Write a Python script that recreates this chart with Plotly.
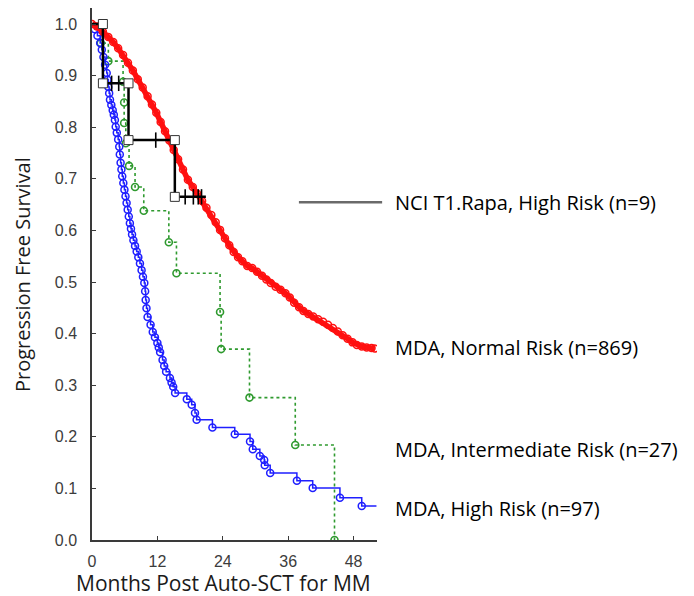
import plotly.graph_objects as go

# ---------------- data ----------------
# MDA, Normal Risk (n=869)  -- dense curve of open circles
normal_months = [0, 0.9, 2.0, 3.0, 3.9, 4.8, 5.7, 6.6, 7.5, 8.4, 9.3, 10.2, 11.0, 11.8,
                 12.6, 13.4, 14.2, 15.0, 15.8, 16.7, 17.6, 18.5, 19.3, 20.2, 21.0, 21.9,
                 22.7, 23.5, 24.4, 25.2, 26.0, 26.8, 27.6, 28.5, 29.4, 30.3, 31.2, 32.0,
                 32.8, 33.7, 34.6, 35.5, 36.3, 37.1, 38.0, 38.8, 39.7, 40.6, 41.5, 42.4,
                 43.3, 44.2, 45.1, 46.0, 46.9, 47.8, 48.6, 49.5, 50.4, 51.3, 51.9]
normal_surv = [1.0, 0.995, 0.985, 0.975, 0.965, 0.953, 0.940, 0.925, 0.910, 0.893, 0.877,
               0.860, 0.844, 0.828, 0.810, 0.792, 0.774, 0.756, 0.738, 0.718, 0.698, 0.684,
               0.671, 0.657, 0.644, 0.630, 0.616, 0.601, 0.585, 0.571, 0.558, 0.548, 0.540,
               0.531, 0.527, 0.520, 0.512, 0.505, 0.498, 0.491, 0.485, 0.478, 0.470, 0.460,
               0.451, 0.444, 0.438, 0.433, 0.428, 0.423, 0.417, 0.411, 0.404, 0.397, 0.390,
               0.383, 0.378, 0.375, 0.373, 0.372, 0.371]

# MDA, High Risk (n=97) -- step curve with circles at events
high_months = [0.5, 1.0, 1.5, 1.8, 2.1, 2.4, 2.7, 2.85, 3.0, 3.15, 3.3, 3.55, 3.8, 4.0, 4.2,
               4.35, 4.55, 4.8, 5.0, 5.1, 5.25, 5.4, 5.55, 5.75, 5.95, 6.15, 6.35, 6.55,
               6.75, 6.95, 7.15, 7.35, 7.6, 7.9, 8.2, 8.5, 8.8, 9.1, 9.35, 9.6, 9.75, 9.85,
               10.0, 10.2, 10.75, 11.15, 11.55, 12.0, 12.25, 12.5, 12.95, 13.25, 13.6, 14.3,
               14.6, 14.9, 15.25, 17.4, 18.3, 18.9, 19.2, 22.1, 26.2, 29.0, 29.5, 30.8, 31.6,
               31.7, 32.7, 37.6, 40.5, 45.5, 49.5]
high_surv = [0.990, 0.977, 0.963, 0.950, 0.936, 0.921, 0.905, 0.892, 0.878, 0.866, 0.853,
             0.843, 0.833, 0.824, 0.814, 0.801, 0.789, 0.776, 0.762, 0.747, 0.731, 0.718,
             0.705, 0.692, 0.679, 0.666, 0.653, 0.640, 0.627, 0.614, 0.603, 0.592, 0.581,
             0.570, 0.559, 0.548, 0.536, 0.523, 0.510, 0.498, 0.482, 0.465, 0.449, 0.432,
             0.417, 0.403, 0.393, 0.382, 0.373, 0.364, 0.349, 0.337, 0.326, 0.314, 0.305,
             0.297, 0.285, 0.273, 0.262, 0.246, 0.233, 0.218, 0.205, 0.191, 0.176, 0.163,
             0.155, 0.145, 0.130, 0.115, 0.101, 0.082, 0.066]
high_last_followup = 52.2

# MDA, Intermediate Risk (n=27)
inter_months = [1.6, 3.0, 5.7, 5.9, 5.9, 6.2, 6.8, 7.9, 9.5, 14.1, 15.5, 23.5, 23.7, 28.9,
                37.3, 44.5]
inter_surv = [0.963, 0.928, 0.888, 0.848, 0.808, 0.769, 0.725, 0.684, 0.638, 0.577, 0.517,
              0.442, 0.370, 0.276, 0.184, 0.0]

# NCI T1.Rapa, High Risk (n=9)
nci_event_months = [2.0, 6.7, 15.2]
nci_surv = [1.0, 0.885, 0.775, 0.665]
nci_censor_months = [3.6, 4.9, 11.7, 17.1, 18.6, 19.5, 20.1]
nci_last_followup = 20.9

x_ticks = [0, 12, 24, 36, 48]
y_ticks = [0.0, 0.1, 0.2, 0.3, 0.4, 0.5, 0.6, 0.7, 0.8, 0.9, 1.0]
y_tick_labels = ["%.1f" % v for v in y_ticks]

label_nci = "NCI T1.Rapa, High Risk (n=9)"
label_normal = "MDA, Normal Risk (n=869)"
label_inter = "MDA, Intermediate Risk (n=27)"
label_high = "MDA, High Risk (n=97)"
x_title = "Months Post Auto-SCT for MM"
y_title = "Progression Free Survival"

# ---------------- figure ----------------
RED = "#ff1010"
BLUE = "#1f1fff"
GREEN = "#2f9a2f"

fig = go.Figure()

# intermediate risk (green dotted step)
fig.add_trace(go.Scatter(
    x=[0] + inter_months, y=[1.0] + inter_surv, mode="lines",
    line=dict(color=GREEN, width=1.6, dash="dot", shape="hv"), hoverinfo="skip"))
fig.add_trace(go.Scatter(
    x=inter_months, y=inter_surv, mode="markers",
    marker=dict(symbol="circle-open", size=7, color=GREEN, line=dict(width=1.6))))

# high risk (blue step)
fig.add_trace(go.Scatter(
    x=[0] + high_months + [high_last_followup], y=[1.0] + high_surv + [high_surv[-1]],
    mode="lines", line=dict(color=BLUE, width=1.5, shape="hv"), hoverinfo="skip"))
fig.add_trace(go.Scatter(
    x=high_months, y=high_surv, mode="markers",
    marker=dict(symbol="circle-open", size=7, color=BLUE, line=dict(width=1.5))))

# normal risk (red dense)
fig.add_trace(go.Scatter(
    x=normal_months, y=normal_surv, mode="lines+markers",
    line=dict(color=RED, width=5.5),
    marker=dict(symbol="circle-open", size=7, color=RED, line=dict(width=1.5))))

# NCI (black step with squares and censor ticks)
nci_x = [0] + nci_event_months + [nci_last_followup]
nci_y = nci_surv + [nci_surv[-1]]
fig.add_trace(go.Scatter(
    x=nci_x, y=nci_y, mode="lines",
    line=dict(color="black", width=2.5, shape="hv"), hoverinfo="skip"))


def surv_at(t):
    s = nci_surv[0]
    for i, et in enumerate(nci_event_months):
        if t >= et:
            s = nci_surv[i + 1]
    return s


fig.add_trace(go.Scatter(
    x=nci_censor_months, y=[surv_at(t) for t in nci_censor_months], mode="markers",
    marker=dict(symbol="line-ns", size=11, color="black", line=dict(width=1.6, color="black"))))
sq_x, sq_y = [], []
for i, et in enumerate(nci_event_months):
    sq_x += [et, et]
    sq_y += [nci_surv[i], nci_surv[i + 1]]
fig.add_trace(go.Scatter(
    x=sq_x, y=sq_y, mode="markers",
    marker=dict(symbol="square", size=9, color="white", line=dict(width=1, color="#333333"))))

# legend-like labels on the right
fig.add_shape(type="line", xref="paper", yref="paper", x0=0.726, x1=1.018, y0=0.635, y1=0.635,
              line=dict(color="#6a6a6a", width=2.5))
lab_font = dict(family="Open Sans, sans-serif", size=20, color="black")
for txt, yy in [(label_nci, 0.635), (label_normal, 0.361), (label_inter, 0.171), (label_high, 0.060)]:
    fig.add_annotation(text=txt, xref="paper", yref="paper", x=1.056, y=yy, xanchor="left",
                       yanchor="middle", showarrow=False, font=lab_font)

fig.add_annotation(text=x_title, xref="paper", yref="paper", x=0.463, y=-0.081,
                   xanchor="center", yanchor="middle", showarrow=False,
                   font=dict(family="Open Sans, sans-serif", size=21, color="#1a1a1a"))
fig.add_annotation(text=y_title, xref="paper", yref="paper", x=-0.2456, y=0.498,
                   xanchor="center", yanchor="middle", textangle=-90, showarrow=False,
                   font=dict(family="Open Sans, sans-serif", size=20, color="#1a1a1a"))

axis_common = dict(showgrid=False, zeroline=False, showline=True, linecolor="#3a3a3a",
                   linewidth=1.5, ticks="inside", ticklen=4, tickwidth=1.2, tickcolor="#3a3a3a",
                   tickfont=dict(family="Liberation Sans, Arial, sans-serif", size=16, color="#3c3c3c"))
fig.update_xaxes(range=[0, 52.3], tickvals=x_ticks, ticklabelstandoff=6, **axis_common)
fig.update_yaxes(range=[0, 1.031], tickvals=y_ticks, ticktext=y_tick_labels,
                 ticklabelstandoff=10, **axis_common)

# the page body adds an 8px margin, so the figure is 8px smaller and shifted
fig.update_layout(width=686, height=588, showlegend=False,
                  plot_bgcolor="white", paper_bgcolor="white",
                  margin=dict(l=84, r=317, t=0, b=56, autoexpand=False))

fig.write_html("out.html")
